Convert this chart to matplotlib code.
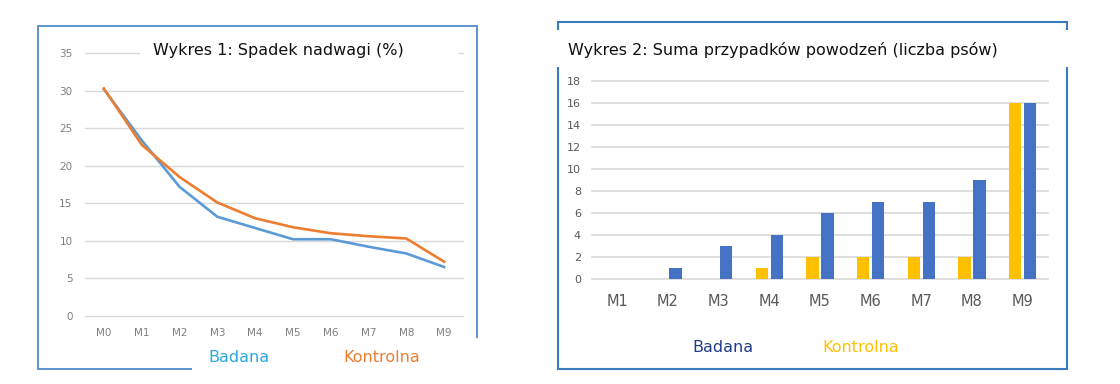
import matplotlib
matplotlib.use("Agg")
import matplotlib.pyplot as plt
from matplotlib.patches import Rectangle

# chart 1: overweight drop (%)
months_1 = ["M0", "M1", "M2", "M3", "M4", "M5", "M6", "M7", "M8", "M9"]
badana_1 = [30.2, 23.4, 17.2, 13.2, 11.7, 10.2, 10.2, 9.2, 8.3, 6.5]
kontrolna_1 = [30.3, 22.8, 18.5, 15.1, 13.0, 11.8, 11.0, 10.6, 10.3, 7.2]
yticks_1 = [0, 5, 10, 15, 20, 25, 30, 35]

# chart 2: number of successful cases (dogs)
months_2 = ["M1", "M2", "M3", "M4", "M5", "M6", "M7", "M8", "M9"]
badana_2 = [0, 1, 3, 4, 6, 7, 7, 9, 16]
kontrolna_2 = [0, 0, 0, 1, 2, 2, 2, 2, 16]
yticks_2 = [0, 2, 4, 6, 8, 10, 12, 14, 16, 18]

W, H = 1120, 384
fig = plt.figure(figsize=(W / 100, H / 100), dpi=100, facecolor="white")


def px_axes(x0, y0, x1, y1):
    # pixel box (top-left origin) -> figure fraction axes
    return fig.add_axes([x0 / W, 1 - y1 / H, (x1 - x0) / W, (y1 - y0) / H])


grid_c = "#D9D9D9"
tick_c = "#7F7F7F"

# ---- left line chart
ax1 = px_axes(85, 53.3, 463, 315.7)
x1 = range(len(months_1))
ax1.plot(x1, badana_1, color="#5B9BD5", lw=1.9, zorder=3)
ax1.plot(x1, kontrolna_1, color="#ED7D31", lw=1.9, zorder=3)
ax1.set_xlim(-0.5, 9.5)
ax1.set_ylim(0, 35)
ax1.set_yticks(yticks_1)
ax1.set_xticks(list(x1))
ax1.set_xticklabels(months_1)
ax1.grid(axis="y", color=grid_c, lw=1, clip_on=False)
ax1.set_axisbelow(True)
for s in ax1.spines.values():
    s.set_visible(False)
ax1.tick_params(length=0, colors=tick_c, labelsize=7.5)
ax1.tick_params(axis="x", pad=9)
ax1.tick_params(axis="y", pad=9)

# ---- right bar chart
ax2 = px_axes(592, 81, 1048, 279)
x2 = list(range(len(months_2)))
bw = 0.24
off = 0.148
ax2.bar([v - off for v in x2], kontrolna_2, width=bw, color="#FFC000", zorder=3)
ax2.bar([v + off for v in x2], badana_2, width=bw, color="#4472C4", zorder=3)
ax2.set_xlim(-0.5, 8.5)
ax2.set_ylim(0, 18)
ax2.set_yticks(yticks_2)
ax2.set_xticks(x2)
ax2.set_xticklabels(months_2)
ax2.grid(axis="y", color=grid_c, lw=1.2, clip_on=False)
ax2.set_axisbelow(True)
for s in ax2.spines.values():
    s.set_visible(False)
ax2.tick_params(length=0, colors="#595959")
ax2.tick_params(axis="x", pad=11, labelsize=10.5)
ax2.tick_params(axis="y", pad=8, labelsize=8)

# ---- overlay: frames, white boxes, titles, legend texts
ov = fig.add_axes([0, 0, 1, 1], zorder=10)
ov.set_xlim(0, W)
ov.set_ylim(H, 0)
ov.axis("off")
ov.patch.set_alpha(0)

ov.add_patch(Rectangle((38, 26), 439, 343, fill=False, ec="#4F8AC9", lw=1.3, zorder=1))
ov.add_patch(Rectangle((558, 22), 509, 347, fill=False, ec="#3A7CC0", lw=1.5, zorder=1))

# white boxes that hide parts of frames / gridlines
ov.add_patch(Rectangle((140, 36), 318, 26, fc="white", ec="none", zorder=2))
ov.add_patch(Rectangle((192, 338), 295, 40, fc="white", ec="none", zorder=2))
ov.add_patch(Rectangle((550, 30), 525, 37, fc="white", ec="none", zorder=2))

ov.text(153, 50, "Wykres 1: Spadek nadwagi (%)", fontsize=11.5, color="#111111",
        va="center", ha="left", zorder=3)
ov.text(568, 50, "Wykres 2: Suma przypadków powodzeń (liczba psów)", fontsize=11.5,
        color="#111111", va="center", ha="left", zorder=3)

ov.text(208, 358, "Badana", fontsize=11.5, color="#2AA8E0", va="center", ha="left", zorder=3)
ov.text(343, 358, "Kontrolna", fontsize=11.5, color="#ED7D31", va="center", ha="left", zorder=3)
ov.text(692, 347, "Badana", fontsize=11.5, color="#203C8C", va="center", ha="left", zorder=3)
ov.text(822, 347, "Kontrolna", fontsize=11.5, color="#FFC000", va="center", ha="left", zorder=3)

fig.savefig("out.png", dpi=100, facecolor="white")
